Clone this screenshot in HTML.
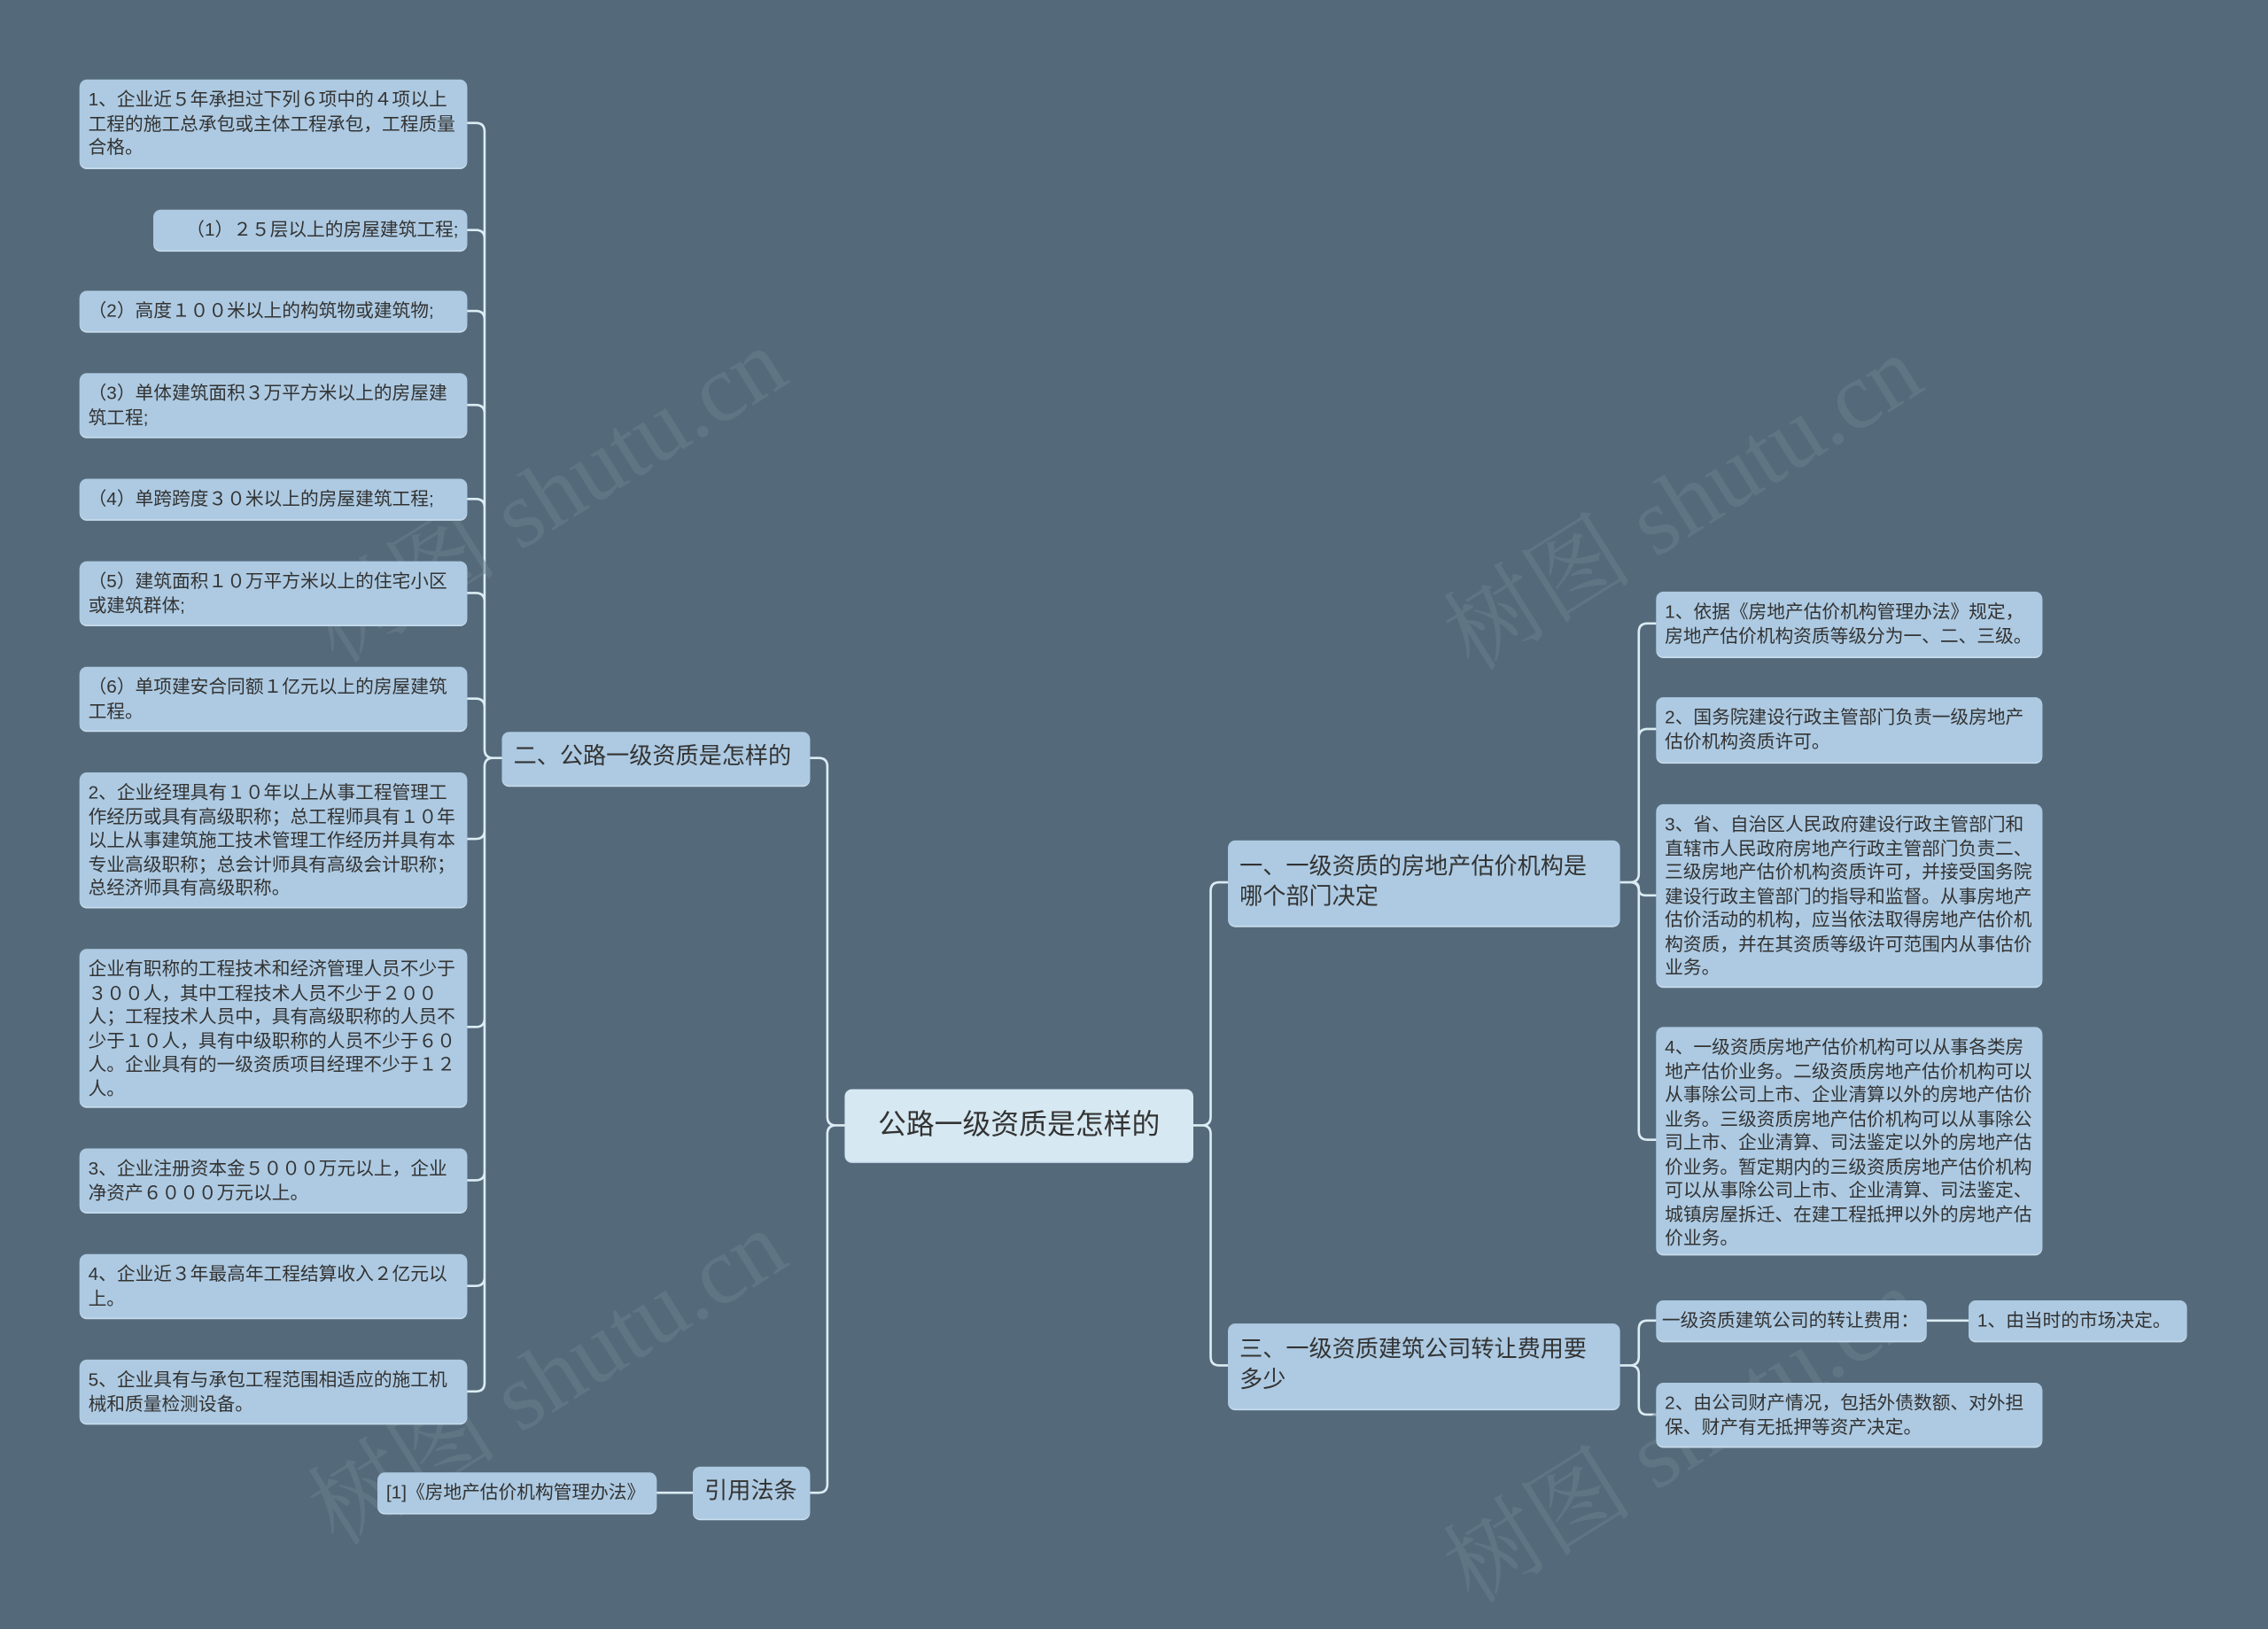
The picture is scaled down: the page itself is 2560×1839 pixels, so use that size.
<!DOCTYPE html>
<html><head><meta charset="utf-8"><style>
html,body{margin:0;padding:0;background:#546a7b;}
body{width:2560px;height:1806px;overflow:hidden;position:relative;}
#s{position:absolute;left:0;top:0;width:1568px;height:1106px;transform:scale(1.63265,1.63291);transform-origin:0 0;font-family:"Liberation Sans","Noto Sans CJK SC",sans-serif;}
.n{position:absolute;box-sizing:border-box;background:#adcae2;border-radius:5px;color:#333;font-size:12.7px;line-height:16.5px;padding:6px 6px;box-shadow:0 1px 0 #c8dcec;overflow:hidden;}
.m{font-size:16px;line-height:21px;padding:8px 8px;}
.c{font-size:19.5px;line-height:50px;padding:0;text-align:center;background:#d6e8f2;}
.w{position:absolute;font-family:"Liberation Serif","Noto Serif CJK SC",serif;font-size:66px;color:#6a7e8d;opacity:.55;transform:rotate(-32deg);white-space:nowrap;}
svg{position:absolute;left:0;top:0;}
</style></head><body><div id="s">
<svg id="g" width="1568" height="1106"></svg>
<div class="w" style="left:190px;top:290px">树图 shutu.cn</div>
<div class="w" style="left:975px;top:295px">树图 shutu.cn</div>
<div class="w" style="left:190px;top:900px">树图 shutu.cn</div>
<div class="w" style="left:975px;top:940px">树图 shutu.cn</div>

<div class="n" style="left:55px;top:55px;width:268px;height:61px">1、企业近５年承担过下列６项中的４项以上工程的施工总承包或主体工程承包，工程质量合格。</div>
<div class="n" style="left:106px;top:145px;width:217px;height:28px;text-align:right">（1）２５层以上的房屋建筑工程;</div>
<div class="n" style="left:55px;top:201px;width:268px;height:28px">（2）高度１００米以上的构筑物或建筑物;</div>
<div class="n" style="left:55px;top:258px;width:268px;height:44px">（3）单体建筑面积３万平方米以上的房屋建筑工程;</div>
<div class="n" style="left:55px;top:331px;width:268px;height:28px">（4）单跨跨度３０米以上的房屋建筑工程;</div>
<div class="n" style="left:55px;top:388px;width:268px;height:44px">（5）建筑面积１０万平方米以上的住宅小区或建筑群体;</div>
<div class="n" style="left:55px;top:461px;width:268px;height:44px">（6）单项建安合同额１亿元以上的房屋建筑工程。</div>
<div class="n" style="left:55px;top:534px;width:268px;height:93px">2、企业经理具有１０年以上从事工程管理工作经历或具有高级职称；总工程师具有１０年以上从事建筑施工技术管理工作经历并具有本专业高级职称；总会计师具有高级会计职称；总经济师具有高级职称。</div>
<div class="n" style="left:55px;top:656px;width:268px;height:109px">企业有职称的工程技术和经济管理人员不少于３００人，其中工程技术人员不少于２００人；工程技术人员中，具有高级职称的人员不少于１０人，具有中级职称的人员不少于６０人。企业具有的一级资质项目经理不少于１２人。</div>
<div class="n" style="left:55px;top:794px;width:268px;height:44px">3、企业注册资本金５０００万元以上，企业净资产６０００万元以上。</div>
<div class="n" style="left:55px;top:867px;width:268px;height:44px">4、企业近３年最高年工程结算收入２亿元以上。</div>
<div class="n" style="left:55px;top:940px;width:268px;height:44px">5、企业具有与承包工程范围相适应的施工机械和质量检测设备。</div>
<div class="n m" style="left:347px;top:506px;width:213px;height:37px;padding:7px 8px">二、公路一级资质是怎样的</div>
<div class="n m" style="left:479px;top:1014px;width:81px;height:36px;padding:7px 8px">引用法条</div>
<div class="n" style="left:261px;top:1018px;width:193px;height:28px">[1]《房地产估价机构管理办法》</div>
<div class="n c" style="left:584px;top:753px;width:241px;height:50px">公路一级资质是怎样的</div>
<div class="n m" style="left:849px;top:581px;width:271px;height:59px">一、一级资质的房地产估价机构是哪个部门决定</div>
<div class="n m" style="left:849px;top:915px;width:271px;height:59px">三、一级资质建筑公司转让费用要多少</div>
<div class="n" style="left:1145px;top:409px;width:267px;height:45px">1、依据《房地产估价机构管理办法》规定，房地产估价机构资质等级分为一、二、三级。</div>
<div class="n" style="left:1145px;top:482px;width:267px;height:45px">2、国务院建设行政主管部门负责一级房地产估价机构资质许可。</div>
<div class="n" style="left:1145px;top:556px;width:267px;height:126px">3、省、自治区人民政府建设行政主管部门和直辖市人民政府房地产行政主管部门负责二、三级房地产估价机构资质许可，并接受国务院建设行政主管部门的指导和监督。从事房地产估价活动的机构，应当依法取得房地产估价机构资质，并在其资质等级许可范围内从事估价业务。</div>
<div class="n" style="left:1145px;top:710px;width:267px;height:157px">4、一级资质房地产估价机构可以从事各类房地产估价业务。二级资质房地产估价机构可以从事除公司上市、企业清算以外的房地产估价业务。三级资质房地产估价机构可以从事除公司上市、企业清算、司法鉴定以外的房地产估价业务。暂定期内的三级资质房地产估价机构可以从事除公司上市、企业清算、司法鉴定、城镇房屋拆迁、在建工程抵押以外的房地产估价业务。</div>
<div class="n" style="left:1145px;top:899px;width:187px;height:28px;white-space:nowrap;padding:6px 4px">一级资质建筑公司的转让费用：</div>
<div class="n" style="left:1361px;top:899px;width:151px;height:28px">1、由当时的市场决定。</div>
<div class="n" style="left:1145px;top:956px;width:267px;height:44px">2、由公司财产情况，包括外债数额、对外担保、财产有无抵押等资产决定。</div>
</div>
<script>
var g=document.getElementById('g'),d='';
function e(x1,y1,mx,x2,y2){var r=6,dy=y2-y1,s=dy>0?1:-1;if(Math.abs(dy)<1){d+='M'+x1+' '+y1+'H'+x2;return;}
var sx=x2>x1?1:-1;r=Math.min(r,Math.abs(dy)/2);
d+='M'+x1+' '+y1+'H'+(mx-sx*r)+'Q'+mx+' '+y1+' '+mx+' '+(y1+s*r)+'V'+(y2-s*r)+'Q'+mx+' '+y2+' '+(mx+sx*r)+' '+y2+'H'+x2;}
[85,159,215,280,345,410,483,580,710,816,889,962].forEach(function(y){e(347,524,335,323,y);});
e(584,778,572,560,524);e(584,778,572,560,1032);
e(825,778,837,849,610);e(825,778,837,849,944);
[431,504,619,788].forEach(function(y){e(1120,610,1133,1145,y);});
e(1120,944,1133,1145,913);e(1120,944,1133,1145,978);
e(1332,913,1346,1361,913);e(479,1032,466,454,1032);
g.innerHTML='<path d="'+d+'" fill="none" stroke="#dcecf4" stroke-width="1.6"/>';
</script>
</body></html>
